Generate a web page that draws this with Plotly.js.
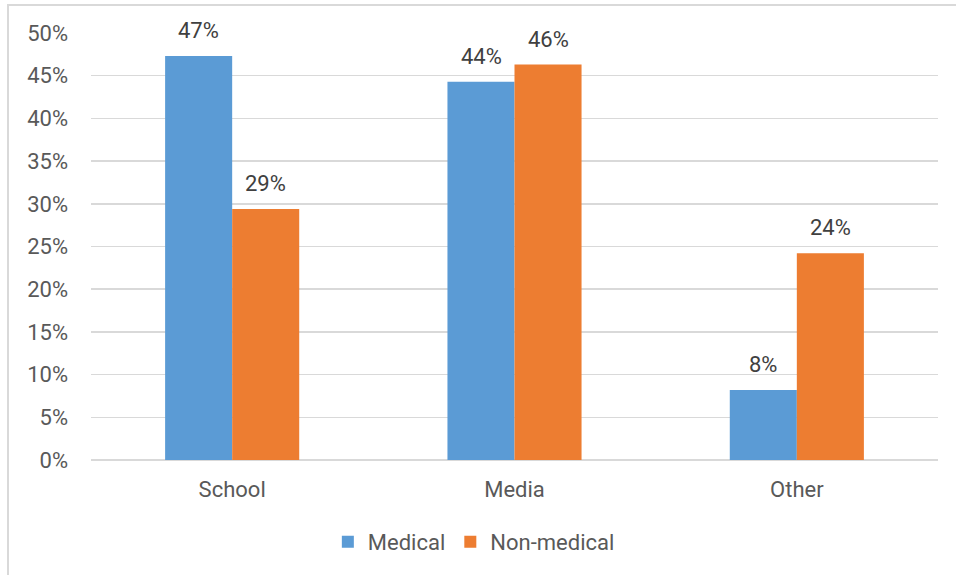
<!DOCTYPE html>
<html>
<head>
<meta charset="utf-8">
<script src="https://cdn.plot.ly/plotly-3.0.1.min.js"></script>
<style>
html,body{margin:0;padding:0;background:#fff;}
#wrap{position:relative;width:956px;height:575px;}
#chart{width:956px;height:575px;}
#frame{position:absolute;left:7px;top:4px;width:960px;height:600px;border-top:2px solid #d9d9d9;border-left:2px solid #d9d9d9;pointer-events:none;}
</style>
</head>
<body>
<div id="wrap"><div id="chart"></div><div id="frame"></div></div>
<script>
const categories = ["School", "Media", "Other"];
const medical = [47.3, 44.3, 8.2];
const nonMedical = [29.4, 46.3, 24.2];
const yTicks = [0, 5, 10, 15, 20, 25, 30, 35, 40, 45, 50];
const yTickLabels = ["0%", "5%", "10%", "15%", "20%", "25%", "30%", "35%", "40%", "45%", "50%"];

const FONT = "Roboto, 'Open Sans', sans-serif";
const FS = 22;
const common = {type: "bar", x: categories, hoverinfo: "none"};
const traces = [
  Object.assign({}, common, {name: "Medical", y: medical, marker: {color: "#5B9BD5"}}),
  Object.assign({}, common, {name: "Non-medical", y: nonMedical, marker: {color: "#ED7D31"}})
];
const HALF = 33.5;
const annotations = [];
categories.forEach((c, i) => {
  [[medical, -HALF], [nonMedical, HALF]].forEach(([arr, dx]) => {
    annotations.push({x: c, y: arr[i], xref: "x", yref: "y", xshift: dx, yshift: 11,
      yanchor: "bottom", xanchor: "center", showarrow: false,
      text: Math.round(arr[i]) + "%", font: {family: FONT, size: FS, color: "#404040"}});
  });
});
const layout = {
  width: 956, height: 575,
  margin: {l: 91, r: 18, t: 33, b: 115},
  paper_bgcolor: "#fff", plot_bgcolor: "#fff",
  font: {family: FONT, color: "#595959", size: FS},
  barmode: "group",
  bargap: 0.525,
  bargroupgap: 0,
  xaxis: {showgrid: false, zeroline: false, showline: false, ticks: "", tickfont: {size: FS, color: "#595959"}, ticklabelstandoff: 14},
  yaxis: {range: [0, 50], tickmode: "array", tickvals: yTicks, ticktext: yTickLabels, showgrid: true, gridcolor: "#d9d9d9", gridwidth: 1.5,
          zeroline: true, zerolinecolor: "#d9d9d9", zerolinewidth: 1.5, showline: false, ticks: "",
          tickfont: {size: FS, color: "#595959"}, ticklabelstandoff: 22},
  annotations: annotations,
  showlegend: true,
  legend: {orientation: "h", x: 0.452, xanchor: "center", y: -0.192, yanchor: "middle",
           font: {size: FS, color: "#595959"}, itemwidth: 30}
};
Plotly.newPlot("chart", traces, layout, {displayModeBar: false, staticPlot: true});
</script>
</body>
</html>
